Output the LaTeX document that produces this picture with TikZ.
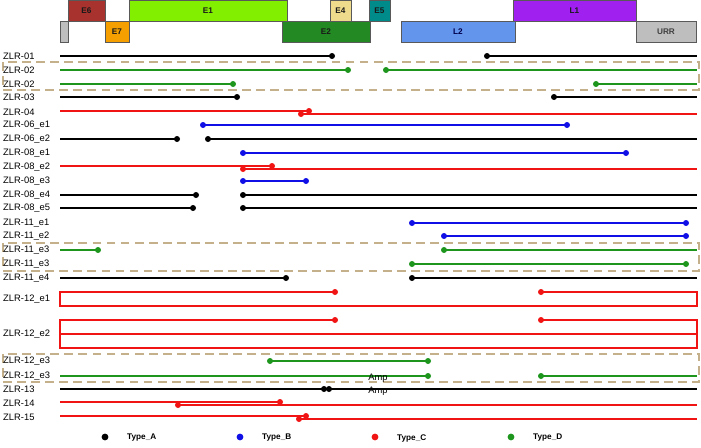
\documentclass[tikz,border=0pt]{standalone}
\usepackage{fontspec}
\setmainfont{Liberation Sans}
\usetikzlibrary{calc}

\definecolor{cE6}{HTML}{A8322D}
\definecolor{cE7}{HTML}{F5A000}
\definecolor{cE1}{HTML}{82EE00}
\definecolor{cE2}{HTML}{238A23}
\definecolor{cE4}{HTML}{EEDC8C}
\definecolor{cE5}{HTML}{008B8B}
\definecolor{cL2}{HTML}{6495ED}
\definecolor{cL1}{HTML}{A020F0}
\definecolor{cURR}{HTML}{BEBEBE}
\definecolor{tA}{HTML}{000000}
\definecolor{tB}{HTML}{1010E6}
\definecolor{tC}{HTML}{F01414}
\definecolor{tD}{HTML}{1E961E}
\definecolor{hbox}{HTML}{C4B08A}

\tikzset{
  gene/.style={draw=black!65, line width=0.7pt},
  glab/.style={font=\bfseries\fontsize{7}{8}\selectfont, text=black!90},
  track/.style={line width=1.6pt},
  hap/.style={draw=hbox, line width=1pt, dash pattern=on 7.5pt off 4.5pt},
}
% breakpoint dot
\newcommand{\brkpt}[3]{\fill[#1] (#2,#3) circle[radius=3];}

\begin{document}
\begin{tikzpicture}[x=0.03cm,y=-0.03cm,font=\fontsize{8}{9}\selectfont]
  \useasboundingbox (0,0) rectangle (701,447);
  % genome
  \draw[gene,fill=cURR] (60,21) rectangle (68,42);
  \draw[gene,fill=cE6] (68,0.5) rectangle node[glab]{E6} (105,21);
  \draw[gene,fill=cE7] (105,21) rectangle node[glab]{E7} (129,42);
  \draw[gene,fill=cE1] (129,0.5) rectangle node[glab]{E1} (287,21);
  \draw[gene,fill=cE2] (282,21) rectangle node[glab]{E2} (370,42);
  \draw[gene,fill=cE4] (330,0.5) rectangle node[glab]{E4} (351,21);
  \draw[gene,fill=cE5] (369,0.5) rectangle node[glab]{E5} (390,21);
  \draw[gene,fill=cL2] (401,21) rectangle node[glab,text=blue!30!black]{L2} (515,42);
  \draw[gene,fill=cL1] (513,0.5) rectangle node[glab]{L1} (636,21);
  \draw[gene,fill=cURR] (636,21) rectangle node[glab,text=black!75]{URR} (696,42);
  % haplotype boxes
  \draw[hap] (3,62) rectangle (699,90);
  \draw[hap] (3,243) rectangle (699,271);
  \draw[hap] (3,354) rectangle (699,382);
  % sample labels
  \foreach \y/\t [count=\i] in {56/ZLR-01,70/ZLR-02,84/ZLR-02,97/ZLR-03,112/ZLR-04,
      125/ZLR-06\_e1,139/ZLR-06\_e2,153/ZLR-08\_e1,167/ZLR-08\_e2,181/ZLR-08\_e3,
      195/ZLR-08\_e4,208/ZLR-08\_e5,223/ZLR-11\_e1,236/ZLR-11\_e2,250/ZLR-11\_e3,
      264/ZLR-11\_e3,278/ZLR-11\_e4,299/ZLR-12\_e1,334/ZLR-12\_e2,361/ZLR-12\_e3,
      376/ZLR-12\_e3,389/ZLR-13,403/ZLR-14,417/ZLR-15}
    {\node[anchor=west,inner sep=0pt] (lab\i) at (3,\y) {\t};}
  % Type_A
  \begin{scope}[track,tA]
    \draw (60,56) -- (332,56); \draw (487,56) -- (697,56);
    \draw (60,97) -- (237,97); \draw (554,97) -- (697,97);
    \draw (60,139) -- (177,139); \draw (208,139) -- (697,139);
    \draw (60,195) -- (196,195); \draw (243,195) -- (697,195);
    \draw (60,208) -- (193,208); \draw (243,208) -- (697,208);
    \draw (60,278) -- (286,278); \draw (412,278) -- (697,278);
    \draw (60,389) -- (697,389);
  \end{scope}
  \foreach \x/\y in {332/56,487/56,237/97,554/97,177/139,208/139,196/195,243/195,
      193/208,243/208,286/278,412/278,324/389,329/389}
    {\brkpt{tA}{\x}{\y}}
  % Type_B
  \foreach \a/\b/\y in {203/567/125,243/626/153,243/306/181,412/686/223,444/686/236}{
    \draw[track,tB] (\a,\y) -- (\b,\y);
    \brkpt{tB}{\a}{\y} \brkpt{tB}{\b}{\y}
  }
  % Type_C
  \begin{scope}[track,tC]
    \draw (60,111) -- (309,111); \draw (301,114) -- (697,114);
    \draw (60,166) -- (272,166); \draw (243,169) -- (697,169);
    \draw (335,292) -- (60,292) -- (60,306) -- (697,306) -- (697,292) -- (541,292);
    \draw (335,320) -- (60,320) -- (60,348) -- (697,348) -- (697,320) -- (541,320);
    \draw (60,334) -- (697,334);
    \draw (60,402) -- (280,402); \draw (178,405) -- (697,405);
    \draw (60,416) -- (306,416); \draw (299,419) -- (697,419);
  \end{scope}
  \foreach \x/\y in {309/111,301/114,272/166,243/169,335/292,541/292,335/320,541/320,
      280/402,178/405,306/416,299/419}
    {\brkpt{tC}{\x}{\y}}
  % Type_D
  \begin{scope}[track,tD]
    \draw (60,70) -- (348,70); \draw (386,70) -- (697,70);
    \draw (60,84) -- (233,84); \draw (596,84) -- (697,84);
    \draw (60,250) -- (98,250); \draw (444,250) -- (697,250);
    \draw (412,264) -- (686,264);
    \draw (270,361) -- (428,361);
    \draw (60,376) -- (428,376); \draw (541,376) -- (697,376);
  \end{scope}
  \foreach \x/\y in {348/70,386/70,233/84,596/84,98/250,444/250,412/264,686/264,
      270/361,428/361,428/376,541/376}
    {\brkpt{tD}{\x}{\y}}
  \node[anchor=base] (amp1) at (378,380.5) {Amp};
  \node[anchor=base] (amp2) at (378,393.5) {Amp};
  % legend
  \foreach \x/\c/\t in {105/tA/Type\_A,240/tB/Type\_B,375/tC/Type\_C,511/tD/Type\_D}{
    \fill[\c] (\x,437) circle[radius=3.4];
    \node[anchor=west,inner sep=0pt,font=\bfseries\fontsize{7}{8}\selectfont] (leg\c) at (\x+22,438) {\t};
  }
\end{tikzpicture}
\end{document}
